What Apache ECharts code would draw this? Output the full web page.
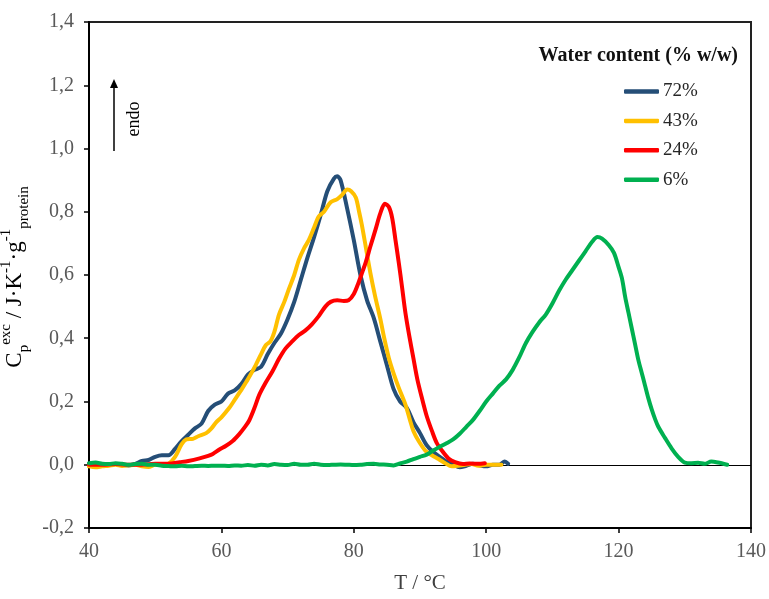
<!DOCTYPE html>
<html>
<head>
<meta charset="utf-8">
<script src="https://cdn.jsdelivr.net/npm/echarts@6/dist/echarts.min.js"></script>
<style>
html,body{margin:0;padding:0;background:#fff;}
#chart{width:769px;height:599px;}
</style>
</head>
<body>
<div id="chart"></div>
<script>
// ---- Data (T in °C, Cp exc in J·K-1·g-1 protein) ----
const seriesNames = ['72%', '43%', '24%', '6%'];
const seriesColors = ['#254E77', '#FFC000', '#FF0000', '#00B050'];
const xTicks = [40, 60, 80, 100, 120, 140];
const yTicks = [-0.2, 0, 0.2, 0.4, 0.6, 0.8, 1.0, 1.2, 1.4];

const water72 = [
  [40,0.003],[41,0.0],[42,-0.003],[43,0.0],[44,0.002],[45,0.0],[46,-0.002],[47,0.003],
  [48,0.012],[49,0.015],[50,0.025],[51,0.03],[52,0.03],[53,0.05],[54,0.075],[55,0.095],
  [56,0.115],[57,0.13],[58,0.17],[59,0.19],[60,0.2],[61,0.225],[62,0.235],[63,0.255],
  [64,0.285],[65,0.3],[66,0.31],[67,0.35],[68,0.385],[69,0.415],[70,0.46],[71,0.515],
  [72,0.585],[73,0.655],[74,0.72],[75,0.79],[76,0.865],[77,0.905],[77.5,0.912],[78,0.9],
  [79,0.81],[80,0.71],[81,0.6],[82,0.52],[83,0.465],[84,0.39],[85,0.315],[86,0.24],
  [87,0.2],[88,0.18],[89,0.135],[90,0.1],[91,0.062],[92,0.04],[93,0.025],[94,0.01],
  [95,0.0],[96,-0.008],[97,-0.003],[98,0.003],[99,-0.002],[100,-0.005],[101,0.0],
  [102,0.0],[102.8,0.01],[103.3,0.003]
];

const water43 = [
  [40,-0.005],[41,-0.008],[42,-0.005],[43,-0.003],[44,0.0],[45,-0.004],[46,-0.002],
  [47,0.0],[48,-0.005],[49,-0.007],[50,0.0],[51,0.0],[52,0.003],[53,0.025],[54,0.065],
  [54.7,0.08],[55.7,0.082],[56.5,0.09],[57.7,0.1],[58.5,0.115],[59.2,0.134],[60,0.15],
  [61.2,0.18],[62,0.205],[63.2,0.243],[64,0.27],[65.2,0.316],[66,0.35],[66.7,0.378],
  [67.4,0.39],[68,0.42],[68.7,0.475],[69.5,0.515],[70.2,0.556],[71,0.6],[71.7,0.648],
  [72.5,0.685],[73.2,0.71],[74,0.75],[74.7,0.785],[75.5,0.8],[76.5,0.83],[77.5,0.84],
  [78.3,0.855],[79,0.87],[79.6,0.865],[80.3,0.845],[80.8,0.8],[81.2,0.76],[81.8,0.69],
  [82.5,0.607],[83.2,0.535],[84,0.462],[84.6,0.4],[85.3,0.337],[86,0.29],[86.8,0.243],
  [87.8,0.19],[88.5,0.14],[89,0.107],[89.8,0.075],[90.8,0.045],[91.8,0.03],[92.8,0.018],
  [93.8,0.005],[94.8,-0.005],[95.8,-0.003],[96.8,0.0],[97.8,0.002],[98.8,-0.003],
  [100,0.0],[101,0.0],[102.3,0.0]
];

const water24 = [
  [40,0.0],[42,0.0],[44,0.002],[46,0.0],[48,0.0],[50,0.003],[52,0.003],[53.7,0.008],
  [55,0.012],[56.7,0.02],[58,0.028],[58.7,0.034],[59.7,0.048],[60.7,0.06],[61.7,0.075],
  [62.7,0.097],[63.5,0.118],[64.2,0.14],[65,0.18],[65.7,0.22],[66.7,0.26],[67.7,0.295],
  [68.7,0.335],[69.7,0.368],[70.7,0.39],[71.7,0.41],[72.7,0.425],[73.7,0.445],[74.7,0.47],
  [75.7,0.5],[76.5,0.515],[77.5,0.52],[78.5,0.518],[79.2,0.52],[80,0.54],[80.7,0.575],
  [81.3,0.61],[81.8,0.64],[82.5,0.69],[83.3,0.745],[84,0.795],[84.7,0.825],[85.3,0.815],
  [85.8,0.78],[86.3,0.71],[86.8,0.638],[87.3,0.56],[87.8,0.48],[88.4,0.405],[89,0.337],
  [89.6,0.27],[90.3,0.21],[91,0.155],[91.8,0.107],[92.5,0.07],[93.3,0.045],[94.3,0.02],
  [95.3,0.008],[96.5,0.002],[97.5,0.004],[98.8,0.003],[99.8,0.005]
];

const water6 = [
  [40,0.005],[41,0.007],[42,0.003],[43,0.002],[44,0.005],[45,0.003],[46,0.0],[47,0.002],
  [48,0.003],[49,0.0],[50,0.0],[51,-0.003],[52,-0.004],[53,-0.005],[54,-0.003],[55,-0.005],
  [56,-0.004],[57,-0.003],[58,-0.004],[59,-0.003],[60,-0.003],[61,-0.004],[62,-0.002],
  [63,-0.003],[64,-0.001],[65,-0.003],[66,0.0],[67,-0.002],[68,0.002],[69,0.0],[70,-0.001],
  [71,0.003],[72,0.0],[73,0.0],[74,0.003],[75,0.0],[76,-0.001],[77,0.0],[78,0.001],[79,0.0],
  [80,-0.001],[81,0.0],[82,0.002],[83,0.003],[84,0.001],[85,0.0],[86,-0.002],[87,0.004],
  [88,0.01],[89,0.018],[90,0.025],[91,0.032],[92,0.045],[93,0.057],[94,0.068],[95,0.08],
  [96,0.098],[97,0.12],[98,0.142],[99,0.17],[100,0.2],[101,0.225],[102,0.25],[103,0.27],
  [104,0.3],[105,0.34],[106,0.385],[107,0.42],[108,0.45],[109,0.475],[110,0.51],[111,0.55],
  [112,0.585],[113,0.615],[114,0.645],[115,0.675],[116,0.705],[116.8,0.72],[117.5,0.715],
  [118.5,0.695],[119.3,0.67],[120,0.625],[120.5,0.59],[121,0.53],[121.5,0.48],[122,0.43],
  [122.5,0.38],[123,0.33],[123.5,0.29],[124,0.25],[124.5,0.21],[125,0.175],[125.5,0.145],
  [126,0.12],[127,0.085],[128,0.052],[129,0.025],[130,0.007],[131,0.005],[132,0.006],
  [133,0.003],[134,0.01],[135,0.007],[136.4,0.0]
];

const allData = [water72, water43, water24, water6];

// ---- Chart ----
const FONT = 'Liberation Serif';
const chart = echarts.init(document.getElementById('chart'), null, {renderer: 'canvas'});

const series = allData.map((d, i) => ({
  name: seriesNames[i],
  type: 'line',
  data: d,
  smooth: 0.3,
  symbol: 'none',
  lineStyle: {color: seriesColors[i], width: 4, cap: 'round', join: 'round'},
  itemStyle: {color: seriesColors[i]},
  markLine: i === 0 ? {
    silent: true,
    symbol: 'none',
    label: {show: false},
    lineStyle: {color: '#000', width: 1, type: 'solid'},
    data: [{yAxis: 0}],
    z: 1
  } : undefined
}));

const option = {
  animation: false,
  backgroundColor: '#fff',
  textStyle: {fontFamily: FONT},
  grid: {
    left: 89, right: 15, top: 22, bottom: 64,
    show: true, borderColor: '#222', borderWidth: 2, backgroundColor: 'transparent'
  },
  title: {
    text: 'Water content (% w/w)',
    right: 26, top: 41,
    textStyle: {fontFamily: FONT, fontSize: 20, fontWeight: 'bold', color: '#111'}
  },
  legend: {
    data: seriesNames,
    orient: 'vertical',
    left: 619, top: 77,
    icon: 'roundRect',
    itemWidth: 35, itemHeight: 4.5, itemGap: 10.4,
    textStyle: {fontFamily: FONT, fontSize: 19, color: '#262626', padding: [0, 0, 0, -1], lineHeight: 19}
  },
  xAxis: {
    type: 'value',
    min: xTicks[0], max: xTicks[xTicks.length - 1], interval: 20,
    name: 'T / °C',
    nameLocation: 'middle',
    nameGap: 45,
    nameTextStyle: {fontFamily: FONT, fontSize: 21, color: '#404040'},
    axisLine: {show: true, onZero: false, lineStyle: {color: '#000', width: 2}},
    axisTick: {show: true, inside: false, length: 5, lineStyle: {color: '#000', width: 1.5}},
    axisLabel: {fontFamily: FONT, fontSize: 20, color: '#595959', margin: 14},
    splitLine: {show: false}
  },
  yAxis: {
    type: 'value',
    min: yTicks[0], max: yTicks[yTicks.length - 1], interval: 0.2,
    axisLine: {show: true, onZero: false, lineStyle: {color: '#000', width: 2}},
    axisTick: {show: true, inside: false, length: 5, lineStyle: {color: '#000', width: 1.5}},
    axisLabel: {
      fontFamily: FONT, fontSize: 20, color: '#595959', margin: 15,
      formatter: v => v.toFixed(1).replace('.', ',')
    },
    splitLine: {show: false}
  },
  series: series,
  graphic: [
    {
      type: 'text',
      x: 15, y: 277,
      rotation: Math.PI / 2,
      style: {
        text: '{b|C}{sub|p}{sup|exc}{b| / J·K}{sup|-1}{b|·g}{sup|-1}{sub|protein}',
        textAlign: 'center',
        textVerticalAlign: 'middle',
        rich: {
          b: {fontFamily: FONT, fontSize: 23, color: '#404040', lineHeight: 33, verticalAlign: 'middle'},
          sup: {fontFamily: FONT, fontSize: 15, color: '#404040', lineHeight: 14, verticalAlign: 'top'},
          sub: {fontFamily: FONT, fontSize: 15, color: '#404040', lineHeight: 13, verticalAlign: 'bottom'}
        }
      }
    },
    {
      type: 'line',
      shape: {x1: 114, y1: 151, x2: 114, y2: 86},
      style: {stroke: '#000', lineWidth: 1.5}
    },
    {
      type: 'polygon',
      shape: {points: [[114, 79], [110, 88], [118, 88]]},
      style: {fill: '#000'}
    },
    {
      type: 'text',
      x: 134, y: 119,
      rotation: Math.PI / 2,
      style: {
        text: 'endo',
        fontFamily: FONT, fontSize: 18, fill: '#000',
        textAlign: 'center', textVerticalAlign: 'middle'
      }
    }
  ]
};

chart.setOption(option);
</script>
</body>
</html>
